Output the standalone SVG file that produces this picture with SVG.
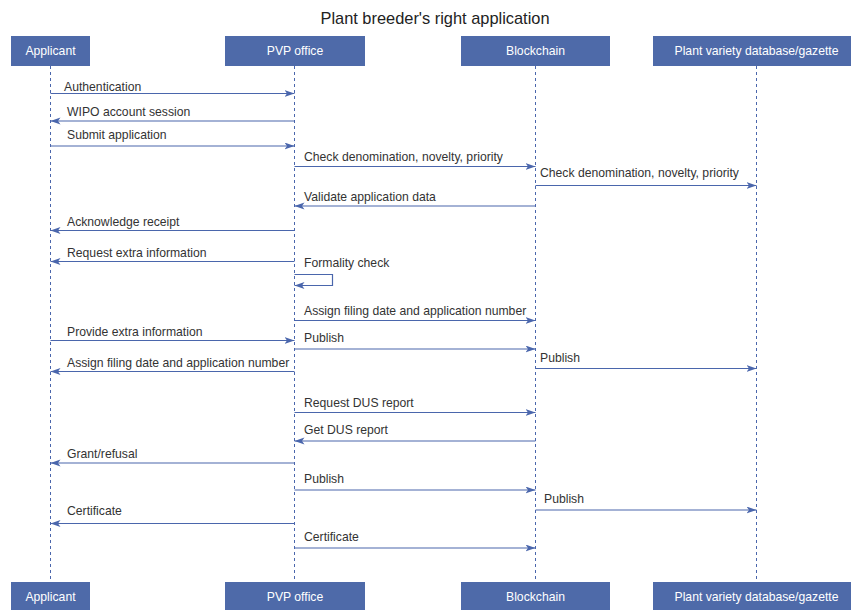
<svg xmlns="http://www.w3.org/2000/svg" width="851" height="610" viewBox="0 0 851 610">
<style>
.box{fill:#4e6aa9;}
.bt{font-family:"Liberation Sans",Arial,sans-serif;font-size:12.2px;fill:#ffffff;text-anchor:middle;}
.life{stroke:#4a66ac;stroke-width:1;stroke-dasharray:3,3;fill:none;}
.msg{stroke:#4a66ac;stroke-width:1.2;fill:none;marker-end:url(#ah);}
.lbl{font-family:"Liberation Sans",Arial,sans-serif;font-size:12.2px;fill:#333333;}
.title{font-family:"Liberation Sans",Arial,sans-serif;font-size:16.4px;fill:#222222;text-anchor:middle;}
</style>
<defs>
<marker id="ah" markerWidth="12" markerHeight="8" refX="10" refY="3.5" orient="auto" markerUnits="userSpaceOnUse">
<path d="M0,0 L10,3.5 L0,7 L2.5,3.5 z" fill="#4a66ac"/>
</marker>
</defs>
<rect width="851" height="610" fill="#ffffff"/>
<text class="title" x="435" y="24">Plant breeder's right application</text>

<g id="lifelines">
<line class="life" x1="50.5" y1="66" x2="50.5" y2="582"/>
<line class="life" x1="294.5" y1="66" x2="294.5" y2="582"/>
<line class="life" x1="535.5" y1="66" x2="535.5" y2="582"/>
<line class="life" x1="756.5" y1="66" x2="756.5" y2="582"/>
</g>

<g id="applicant">
<rect class="box" x="11" y="36" width="79" height="30"/>
<text class="bt" x="50.5" y="55">Applicant</text>
<rect class="box" x="11" y="582" width="79" height="28"/>
<text class="bt" x="50.5" y="601">Applicant</text>
</g>
<g id="pvp">
<rect class="box" x="225" y="36" width="140" height="30"/>
<text class="bt" x="295" y="55">PVP office</text>
<rect class="box" x="225" y="582" width="140" height="28"/>
<text class="bt" x="295" y="601">PVP office</text>
</g>
<g id="blockchain">
<rect class="box" x="461" y="36" width="149" height="30"/>
<text class="bt" x="535.5" y="55">Blockchain</text>
<rect class="box" x="461" y="582" width="149" height="28"/>
<text class="bt" x="535.5" y="601">Blockchain</text>
</g>
<g id="database">
<rect class="box" x="653" y="36" width="198" height="30"/>
<text class="bt" x="756.5" y="55">Plant variety database/gazette</text>
<rect class="box" x="653" y="582" width="198" height="28"/>
<text class="bt" x="756.5" y="601">Plant variety database/gazette</text>
</g>

<g id="connectors">
<line class="msg" x1="50.5" y1="93.5" x2="294.5" y2="93.5"/>
<line class="msg" x1="294.5" y1="121" x2="50.5" y2="121"/>
<line class="msg" x1="50.5" y1="146" x2="294.5" y2="146"/>
<line class="msg" x1="294.5" y1="166.5" x2="535.5" y2="166.5"/>
<line class="msg" x1="535.5" y1="185.5" x2="756.5" y2="185.5"/>
<line class="msg" x1="535.5" y1="206" x2="294.5" y2="206"/>
<line class="msg" x1="294.5" y1="230.5" x2="50.5" y2="230.5"/>
<line class="msg" x1="294.5" y1="261.5" x2="50.5" y2="261.5"/>
<path class="msg" d="M294.5,274.5 H332.5 V285.5 H294.5"/>
<line class="msg" x1="294.5" y1="320.5" x2="535.5" y2="320.5"/>
<line class="msg" x1="50.5" y1="340.5" x2="294.5" y2="340.5"/>
<line class="msg" x1="294.5" y1="349" x2="535.5" y2="349"/>
<line class="msg" x1="535.5" y1="368.5" x2="756.5" y2="368.5"/>
<line class="msg" x1="294.5" y1="371.5" x2="50.5" y2="371.5"/>
<line class="msg" x1="294.5" y1="412.5" x2="535.5" y2="412.5"/>
<line class="msg" x1="535.5" y1="441" x2="294.5" y2="441"/>
<line class="msg" x1="294.5" y1="463" x2="50.5" y2="463"/>
<line class="msg" x1="294.5" y1="490" x2="535.5" y2="490"/>
<line class="msg" x1="535.5" y1="510" x2="756.5" y2="510"/>
<line class="msg" x1="294.5" y1="523.5" x2="50.5" y2="523.5"/>
<line class="msg" x1="294.5" y1="548" x2="535.5" y2="548"/>
</g>

<g id="labels">
<text class="lbl" x="64" y="91">Authentication</text>
<text class="lbl" x="67" y="116">WIPO account session</text>
<text class="lbl" x="67" y="139">Submit application</text>
<text class="lbl" x="304" y="161">Check denomination, novelty, priority</text>
<text class="lbl" x="540" y="177">Check denomination, novelty, priority</text>
<text class="lbl" x="304" y="201">Validate application data</text>
<text class="lbl" x="67" y="225.5">Acknowledge receipt</text>
<text class="lbl" x="67" y="257">Request extra information</text>
<text class="lbl" x="304" y="267">Formality check</text>
<text class="lbl" x="304" y="315">Assign filing date and application number</text>
<text class="lbl" x="67" y="336">Provide extra information</text>
<text class="lbl" x="304" y="342">Publish</text>
<text class="lbl" x="540" y="362">Publish</text>
<text class="lbl" x="67" y="367">Assign filing date and application number</text>
<text class="lbl" x="304" y="407">Request DUS report</text>
<text class="lbl" x="304" y="433.5">Get DUS report</text>
<text class="lbl" x="67" y="457.5">Grant/refusal</text>
<text class="lbl" x="304" y="483">Publish</text>
<text class="lbl" x="544" y="503">Publish</text>
<text class="lbl" x="67" y="515">Certificate</text>
<text class="lbl" x="304" y="541">Certificate</text>
</g>
</svg>
